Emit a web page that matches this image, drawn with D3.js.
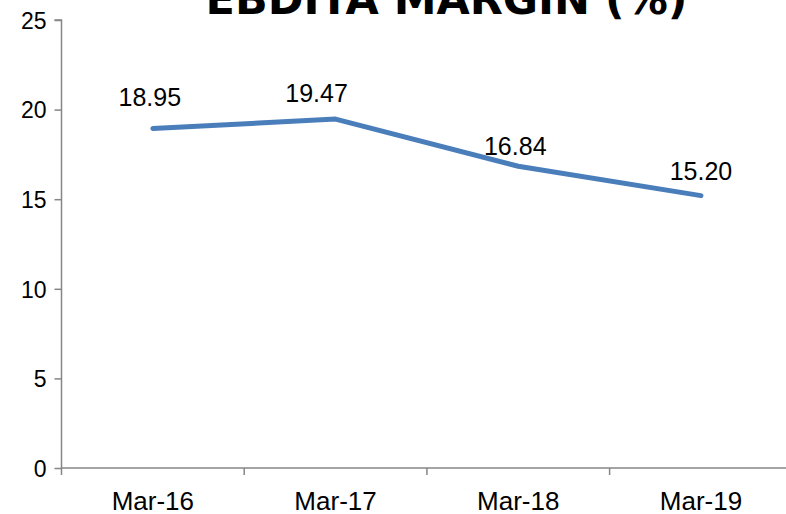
<!DOCTYPE html>
<html>
<head>
<meta charset="utf-8">
<script src="https://cdn.jsdelivr.net/npm/d3@7"></script>
<style>
  html, body { margin: 0; padding: 0; background: #fff; }
  svg { display: block; }
</style>
</head>
<body>
<svg id="chart" width="786" height="514"></svg>
<script>
// EBDITA margin by financial year
const categories = ["Mar-16", "Mar-17", "Mar-18", "Mar-19"];
const margins = [18.95, 19.47, 16.84, 15.20];
const yTicks = [0, 5, 10, 15, 20, 25];

// hand-placed offsets of the value labels (dx, dy from the point)
const labelDx = [-3, -19, -3, 0];
const labelDy = [-22, -17, -11, -16];

const svg = d3.select("#chart");
const axisColor = "#868686";

const x = d3.scaleBand().domain(categories).range([61.5, 792.3]);
const y = d3.scaleLinear().domain([0, 25]).range([468, 20]);

// title (top runs off the canvas)
svg.append("text")
  .attr("x", 446.5).attr("y", 14)
  .attr("text-anchor", "middle")
  .style("font-family", "'DejaVu Sans', Verdana, sans-serif")
  .style("font-weight", "bold")
  .style("font-size", "43px")
  .attr("fill", "#000")
  .text("EBDITA MARGIN (%)");

// y axis
const yAxis = svg.append("g")
  .attr("transform", "translate(61.5,0)")
  .call(d3.axisLeft(y).tickValues(yTicks).tickSize(7).tickPadding(8).tickFormat(d3.format("d")));
yAxis.select(".domain").attr("stroke", axisColor).attr("stroke-width", 1.5).attr("d", `M-7,${y(25)}H0V${y(0)}`);
yAxis.selectAll(".tick line").attr("stroke", axisColor).attr("stroke-width", 1.5);
yAxis.selectAll(".tick text")
  .style("font-family", "'Liberation Sans', Arial, sans-serif")
  .style("font-size", "23px")
  .attr("fill", "#000")
  .attr("dy", "0.36em");

// x axis: ticks sit on category boundaries
const boundaries = categories.map(c => x(c)).concat([x.range()[1]]);
const xAxis = svg.append("g").attr("transform", `translate(0,${y(0)})`);
xAxis.append("line")
  .attr("x1", x.range()[0]).attr("x2", 786)
  .attr("stroke", axisColor).attr("stroke-width", 1.5);
xAxis.selectAll("line.tick")
  .data(boundaries)
  .join("line")
  .attr("class", "tick")
  .attr("x1", d => d).attr("x2", d => d)
  .attr("y1", 0).attr("y2", 7)
  .attr("stroke", axisColor).attr("stroke-width", 1.5);
xAxis.selectAll("text")
  .data(categories)
  .join("text")
  .attr("x", d => x(d) + x.bandwidth() / 2)
  .attr("y", 42)
  .attr("text-anchor", "middle")
  .style("font-family", "'Liberation Sans', Arial, sans-serif")
  .style("font-size", "26px")
  .attr("fill", "#000")
  .text(d => d);

// the margin line
const pts = categories.map((c, i) => [x(c) + x.bandwidth() / 2, y(margins[i])]);
svg.append("path")
  .attr("d", d3.line()(pts))
  .attr("fill", "none")
  .attr("stroke", "#4A7EBB")
  .attr("stroke-width", 5)
  .attr("stroke-linecap", "round")
  .attr("stroke-linejoin", "round");

// value labels
svg.selectAll("text.val")
  .data(margins)
  .join("text")
  .attr("class", "val")
  .attr("x", (d, i) => pts[i][0] + labelDx[i])
  .attr("y", (d, i) => pts[i][1] + labelDy[i])
  .attr("text-anchor", "middle")
  .style("font-family", "'Liberation Sans', Arial, sans-serif")
  .style("font-size", "25px")
  .attr("fill", "#000")
  .text(d => d.toFixed(2));
</script>
</body>
</html>
